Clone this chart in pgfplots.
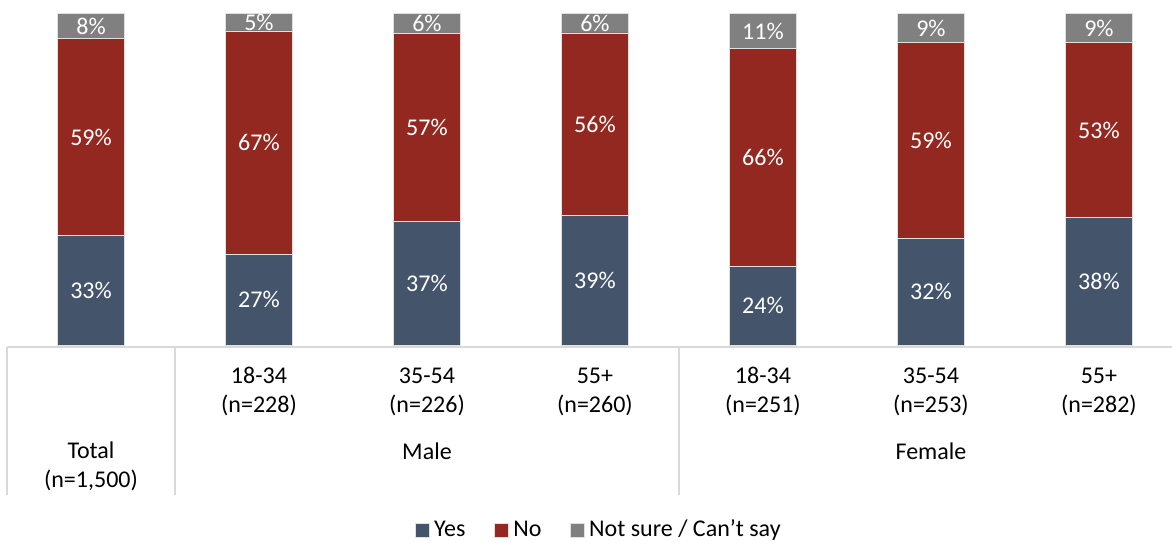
\documentclass[border=0pt]{standalone}
\usepackage{fontspec}
\setmainfont{Carlito}
\usepackage{pgfplots}
\usepackage{pgfplotstable}
\pgfplotsset{compat=1.18}
\definecolor{cyes}{HTML}{44546A}
\definecolor{cno}{HTML}{922820}
\definecolor{cns}{HTML}{808080}
\definecolor{cgrid}{HTML}{D9D9D9}
\pgfplotstableread{
x yes no ns yl nl sl
0 33.1 59.1 7.8 33 59 8
1 27.4 67.2 5.4 27 67 5
2 37.3 56.6 6.1 37 57 6
3 38.9 55.1 6.0 39 56 6
4 23.8 65.4 10.8 24 66 11
5 32.2 58.8 9.0 32 59 9
6 38.3 52.7 9.0 38 53 9
}\datatable
\pgfplotsset{
  base/.style={
    at={(3.5pt,98.5pt)}, anchor=south west,
    scale only axis, width=582.5pt, height=166pt,
    xmin=-0.5, xmax=6.435, ymin=0, ymax=100,
    enlargelimits=false, hide axis, clip=false,
  }
}
\begin{document}
\begin{tikzpicture}[font=\fontsize{12}{14.5}\selectfont]
\path[use as bounding box] (0,0) rectangle (586pt,271pt);
\begin{axis}[
  base,
  ybar stacked, bar width=33.5pt,
  legend style={at={(0.509,-0.557)}, anchor=center, draw=none, legend columns=3,
    font=\fontsize{12}{14.5}\selectfont,
    /tikz/every even column/.append style={column sep=12.5pt}},
  legend image code/.code={\fill[#1] (0pt,-3.5pt) rectangle (7pt,3.5pt);},
]
\addplot[fill=cyes, draw=black!12, line width=0.4pt] table[x=x, y=yes] {\datatable};
\addplot[fill=cno, draw=black!12, line width=0.4pt] table[x=x, y=no] {\datatable};
\addplot[fill=cns, draw=black!12, line width=0.4pt] table[x=x, y=ns] {\datatable};
\legend{Yes, No, Not sure / Can’t say}
\draw[cgrid, line width=1pt] ([yshift=-0.8pt]axis cs:-0.5,0) -- ([yshift=-0.8pt]axis cs:6.435,0);
\draw[cgrid, line width=1pt] ([yshift=-0.8pt]axis cs:-0.5,0) -- ([yshift=-75pt]axis cs:-0.5,0);
\draw[cgrid, line width=1pt] ([yshift=-0.8pt]axis cs:0.5,0) -- ([yshift=-75pt]axis cs:0.5,0);
\draw[cgrid, line width=1pt] ([yshift=-0.8pt]axis cs:3.5,0) -- ([yshift=-75pt]axis cs:3.5,0);
\node[align=center] at ([yshift=-60.75pt]axis cs:0,0) {Total\\(n=1,500)};
\node[align=center] at ([yshift=-23.25pt]axis cs:1,0) {18-34\\(n=228)};
\node[align=center] at ([yshift=-23.25pt]axis cs:2,0) {35-54\\(n=226)};
\node[align=center] at ([yshift=-23.25pt]axis cs:3,0) {55+\\(n=260)};
\node[align=center] at ([yshift=-23.25pt]axis cs:4,0) {18-34\\(n=251)};
\node[align=center] at ([yshift=-23.25pt]axis cs:5,0) {35-54\\(n=253)};
\node[align=center] at ([yshift=-23.25pt]axis cs:6,0) {55+\\(n=282)};
\node at ([yshift=-53pt]axis cs:2,0) {Male};
\node at ([yshift=-53pt]axis cs:5,0) {Female};
\end{axis}
\begin{axis}[
  base,
  point meta=explicit symbolic,
  nodes near coords={\pgfplotspointmeta\%},
  every node near coord/.append style={anchor=center, text=white, font=\fontsize{12}{14.5}\selectfont},
]
\addplot[draw=none, mark=none] table[x=x, y expr=\thisrow{yes}/2, meta=yl] {\datatable};
\addplot[draw=none, mark=none] table[x=x, y expr=\thisrow{yes}+\thisrow{no}/2, meta=nl] {\datatable};
\addplot[draw=none, mark=none] table[x=x, y expr=\thisrow{yes}+\thisrow{no}+\thisrow{ns}/2, meta=sl] {\datatable};
\end{axis}
\end{tikzpicture}
\end{document}
